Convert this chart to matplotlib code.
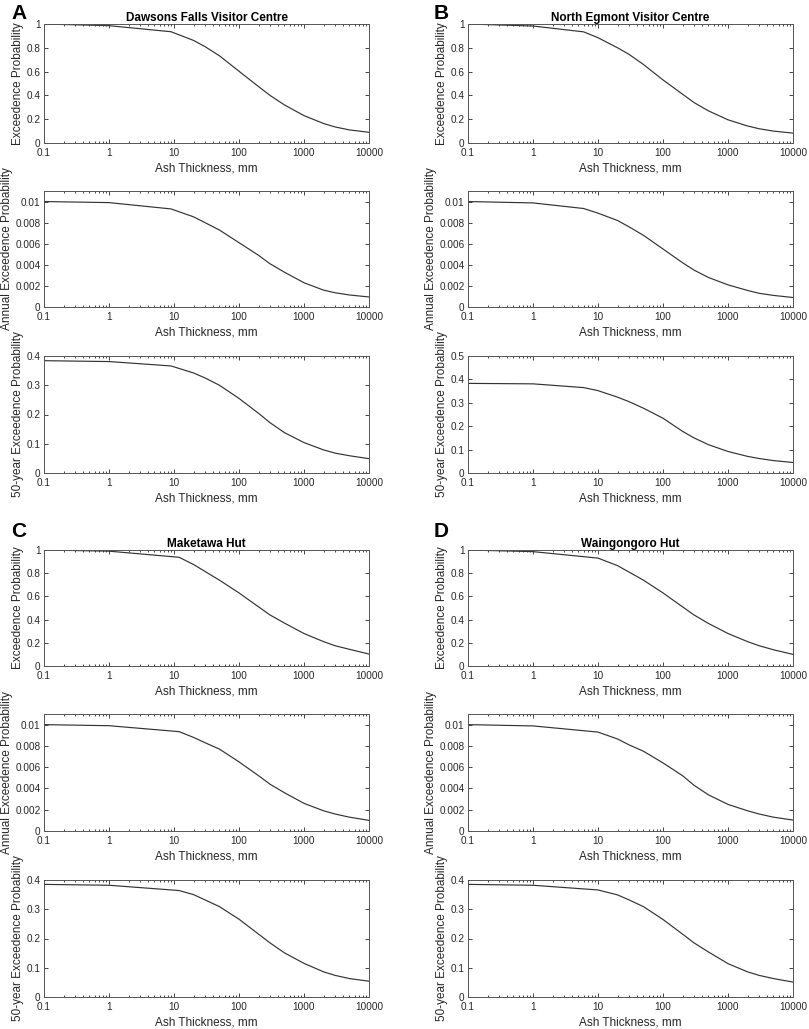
import numpy as np
import matplotlib.pyplot as plt
from matplotlib.ticker import FixedLocator, FixedFormatter, LogLocator, NullFormatter

plt.rcParams['font.family'] = ['Liberation Sans', 'DejaVu Sans']

sites = ['Dawsons Falls Visitor Centre', 'North Egmont Visitor Centre', 'Maketawa Hut', 'Waingongoro Hut']
letters = ['A', 'B', 'C', 'D']

# ash thickness (mm) and probabilities
thick_a = [0.1, 1, 9, 20, 30, 50, 100, 200, 300, 500, 1000, 2000, 3000, 5000, 10000]
exc_a = [1.0, 0.986, 0.935, 0.862, 0.81, 0.733, 0.603, 0.474, 0.40, 0.32, 0.23, 0.164, 0.135, 0.11, 0.09]
ann_a = [0.01, 0.0099, 0.0093, 0.00855, 0.008, 0.0073, 0.0061, 0.0049, 0.0041, 0.0033, 0.0023, 0.0016, 0.00135, 0.00114, 0.00095]
yr50_a = [0.384, 0.381, 0.366, 0.342, 0.325, 0.30, 0.255, 0.204, 0.172, 0.138, 0.104, 0.079, 0.068, 0.059, 0.049]

thick_b = [0.1, 1, 6, 10, 20, 30, 50, 100, 200, 300, 500, 1000, 2000, 3000, 5000, 10000]
exc_b = [1.0, 0.983, 0.934, 0.885, 0.80, 0.745, 0.66, 0.53, 0.41, 0.34, 0.27, 0.195, 0.143, 0.12, 0.10, 0.083]
ann_b = [0.01, 0.00987, 0.00934, 0.0089, 0.0082, 0.0076, 0.0068, 0.0055, 0.0042, 0.0035, 0.0028, 0.0021, 0.00157, 0.0013, 0.0011, 0.0009]
yr50_b = [0.383, 0.381, 0.365, 0.352, 0.324, 0.305, 0.277, 0.234, 0.178, 0.15, 0.121, 0.092, 0.071, 0.062, 0.053, 0.045]

thick_c = [0.1, 1, 12, 20, 30, 50, 100, 200, 300, 500, 1000, 2000, 3000, 5000, 10000]
exc_c = [1.0, 0.99, 0.937, 0.875, 0.815, 0.74, 0.63, 0.51, 0.44, 0.37, 0.28, 0.21, 0.175, 0.144, 0.103]
ann_c = [0.01, 0.0099, 0.00934, 0.0088, 0.0083, 0.0077, 0.0065, 0.0052, 0.0044, 0.0036, 0.0026, 0.0019, 0.0016, 0.0013, 0.001]
yr50_c = [0.385, 0.382, 0.364, 0.35, 0.332, 0.309, 0.266, 0.215, 0.185, 0.151, 0.115, 0.086, 0.074, 0.063, 0.054]

thick_d = [0.1, 1, 10, 20, 30, 50, 100, 200, 300, 500, 1000, 2000, 3000, 5000, 10000]
exc_d = [1.0, 0.986, 0.93, 0.865, 0.81, 0.74, 0.63, 0.51, 0.44, 0.367, 0.28, 0.21, 0.175, 0.14, 0.10]
ann_d = [0.01, 0.00988, 0.0093, 0.00865, 0.0081, 0.0075, 0.0064, 0.0052, 0.0043, 0.0034, 0.0025, 0.0019, 0.0016, 0.0013, 0.00103]
yr50_d = [0.385, 0.382, 0.366, 0.349, 0.332, 0.309, 0.265, 0.215, 0.185, 0.154, 0.114, 0.086, 0.074, 0.063, 0.051]

thick = [thick_a, thick_b, thick_c, thick_d]
exc = [exc_a, exc_b, exc_c, exc_d]
ann = [ann_a, ann_b, ann_c, ann_d]
yr50 = [yr50_a, yr50_b, yr50_c, yr50_d]
yr50_top = [0.4, 0.5, 0.4, 0.4]

x_ticks = [0.1, 1, 10, 100, 1000, 10000]
x_labels = ['0.1', '1', '10', '100', '1000', '10000']

W, H = 809, 1029
fig = plt.figure(figsize=(W / 100, H / 100), dpi=100)

col_left = [44, 468]
col_w = 325
row_px = [[(24, 143), (191, 307), (356, 473)],
          [(550, 666), (714, 831), (880, 997)]]
letter_px = [(11, 4), (434, 4), (11, 522), (434, 522)]

axcol = '#262626'


def px_axes(left, top, bottom):
    return fig.add_axes([left / W, 1 - bottom / H, col_w / W, (bottom - top) / H])


def style(ax, ymax, yticks):
    ax.set_xscale('log')
    ax.set_xlim(0.1, 10000)
    ax.set_ylim(0, ymax)
    ax.xaxis.set_major_locator(FixedLocator(x_ticks))
    ax.xaxis.set_major_formatter(FixedFormatter(x_labels))
    ax.xaxis.set_minor_locator(LogLocator(base=10, subs=np.arange(2, 10), numticks=20))
    ax.xaxis.set_minor_formatter(NullFormatter())
    ax.set_yticks(yticks)
    ax.set_yticklabels(['%g' % v for v in yticks])
    ax.tick_params(which='both', direction='in', top=True, right=True,
                   width=0.6, colors=axcol, labelsize=7.2)
    ax.tick_params(axis='x', pad=3.5)
    ax.tick_params(axis='y', pad=2.5)
    ax.tick_params(which='major', length=3)
    ax.tick_params(which='minor', length=1.6)
    for s in ax.spines.values():
        s.set_color('#555555')
        s.set_linewidth(0.7)
    ax.set_xlabel('Ash Thickness, mm', fontsize=8.5, color=axcol, labelpad=3)


for i in range(4):
    c = i % 2
    r = i // 2
    left = col_left[c]
    rows = row_px[r]

    ax1 = px_axes(left, *rows[0])
    ax1.plot(thick[i], exc[i], color='#333333', lw=0.85)
    style(ax1, 1, [0, 0.2, 0.4, 0.6, 0.8, 1])
    ax1.set_ylabel('Exceedence Probability', fontsize=8.5, color=axcol, labelpad=2)
    ax1.set_title(sites[i], fontsize=8.5, fontweight='bold', pad=2)

    ax2 = px_axes(left, *rows[1])
    ax2.plot(thick[i], ann[i], color='#333333', lw=0.85)
    style(ax2, 0.011, [0, 0.002, 0.004, 0.006, 0.008, 0.01])
    ax2.set_ylabel('Annual Exceedence Probability', fontsize=8.5, color=axcol, labelpad=1.5)

    ax3 = px_axes(left, *rows[2])
    ax3.plot(thick[i], yr50[i], color='#333333', lw=0.85)
    yt = list(np.round(np.arange(0, yr50_top[i] + 0.01, 0.1), 1))
    style(ax3, yr50_top[i], yt)
    ax3.set_ylabel('50-year Exceedence Probability', fontsize=8.5, color=axcol, labelpad=2)

    lx, ly = letter_px[i]
    fig.text(lx / W, 1 - ly / H, letters[i], fontsize=15, fontweight='bold', va='top', ha='left')

fig.savefig('out.png', dpi=100)
